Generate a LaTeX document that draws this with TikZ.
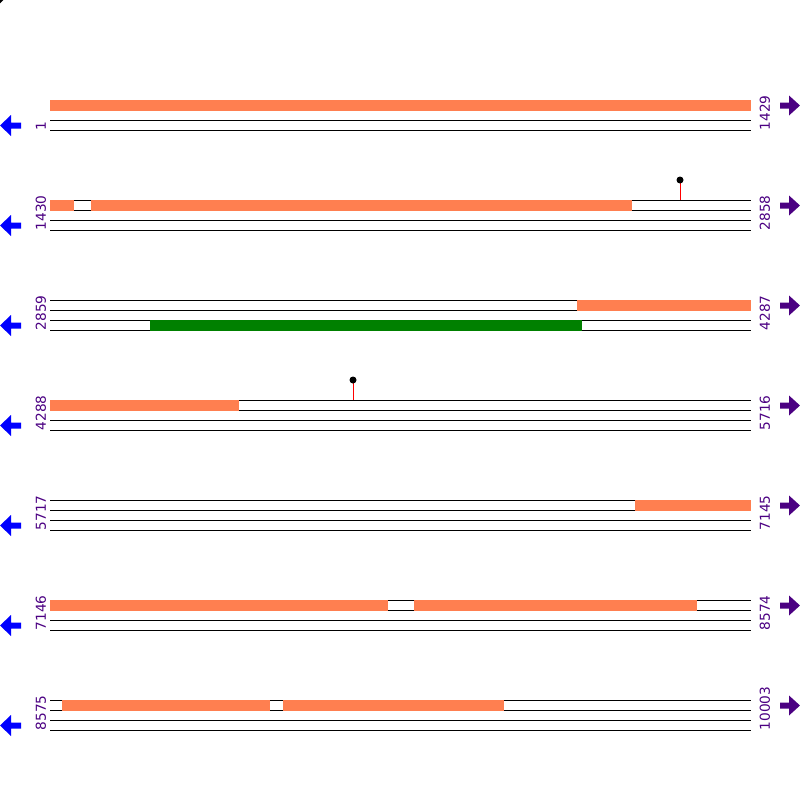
\documentclass[tikz,border=0pt]{standalone}
\usepackage{fontspec}
\setmainfont{DejaVu Sans}
\definecolor{coral}{RGB}{255,127,80}
\definecolor{dgreen}{RGB}{0,128,0}
\definecolor{indigo}{RGB}{75,0,130}
\begin{document}
\begin{tikzpicture}[x=1pt,y=-1pt,
  strand/.style={draw=black,line width=1pt},
  cbar/.style={fill=coral},
  gbar/.style={fill=dgreen},
  poslabel/.style={text=indigo,rotate=90,anchor=west,inner sep=0pt,font=\fontsize{13.7}{14}\selectfont},
  leftarrow/.style={fill=blue},
  rightarrow/.style={fill=indigo},
  stick/.style={draw=red,line width=1pt},
  dot/.style={fill=black}]
\useasboundingbox (0,0) rectangle (800,800);
\fill (0,0) -- (3.5,0) -- (0,3.5) -- cycle;
% strands
\foreach \r in {1,...,7}{
  \foreach \o in {0,10,20,30}{
    \draw[strand] (50,100*\r+\o) -- (751,100*\r+\o);
  }
  \fill[leftarrow] (0,100*\r+25.5) -- (11,100*\r+15) -- (11,100*\r+22.5) -- (21,100*\r+22.5)
     -- (21,100*\r+28.5) -- (11,100*\r+28.5) -- (11,100*\r+36) -- cycle;
  \fill[rightarrow] (800,100*\r+5.5) -- (789,100*\r-4.5) -- (789,100*\r+2.5) -- (780,100*\r+2.5)
     -- (780,100*\r+8.5) -- (789,100*\r+8.5) -- (789,100*\r+15.5) -- cycle;
}
% bars (strand 0: y from r-0.5 to r+10.5)
\foreach \r/\a/\b in {1/50/751, 2/50/74, 2/91/632, 3/577/751, 4/50/239, 5/635/751,
  6/50/388, 6/414/697, 7/62/270, 7/283/504}{
  \fill[cbar] (\a,100*\r-0.5) rectangle (\b,100*\r+10.5);
}
\fill[gbar] (150,319.5) rectangle (582,330.5);
% lollipops
\draw[stick] (680,200) -- (680,180);
\fill[dot] (680,180) circle (3.5);
\draw[stick] (353,400) -- (353,380);
\fill[dot] (353,380) circle (3.5);
% labels
\node[poslabel] (l1) at (41,130.5) {1};
\node[poslabel] (r1) at (765,130.5) {1429};
\node[poslabel] (l2) at (41,230.5) {1430};
\node[poslabel] (r2) at (765,230.5) {2858};
\node[poslabel] (l3) at (41,330.5) {2859};
\node[poslabel] (r3) at (765,330.5) {4287};
\node[poslabel] (l4) at (41,430.5) {4288};
\node[poslabel] (r4) at (765,430.5) {5716};
\node[poslabel] (l5) at (41,530.5) {5717};
\node[poslabel] (r5) at (765,530.5) {7145};
\node[poslabel] (l6) at (41,630.5) {7146};
\node[poslabel] (r6) at (765,630.5) {8574};
\node[poslabel] (l7) at (41,730.5) {8575};
\node[poslabel] (r7) at (765,730.5) {10003};
\end{tikzpicture}
\end{document}
